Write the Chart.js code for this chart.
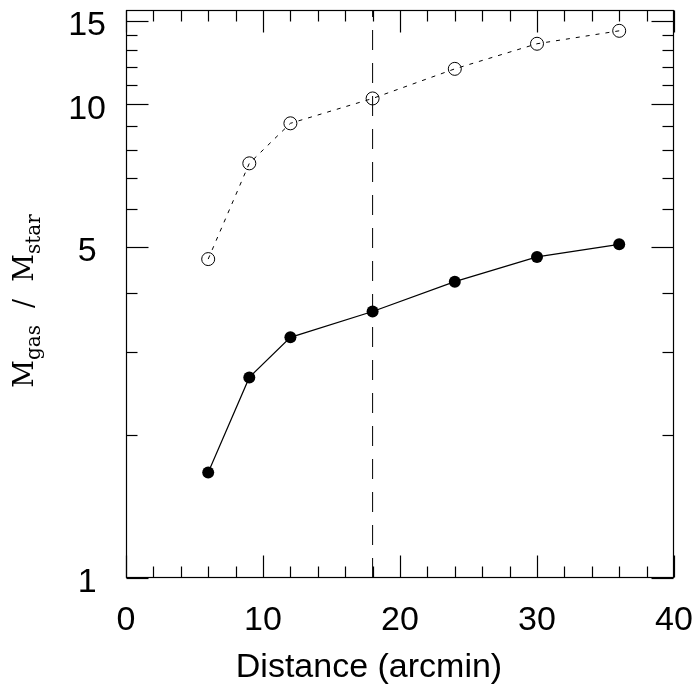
<!DOCTYPE html>
<html><head><meta charset="utf-8">
<script src="https://cdn.jsdelivr.net/npm/chart.js@4/dist/chart.umd.min.js"></script>
<style>html,body{margin:0;padding:0;background:#fff;}canvas{display:block;}</style>
</head><body>
<canvas id="c" width="698" height="698"></canvas>
<script>
// ---- data ----
const distance = [6, 9, 12, 18, 24, 30, 36];
const ratioOpen = [4.71, 7.50, 9.11, 10.28, 11.87, 13.41, 14.28];
const ratioFilled = [1.67, 2.65, 3.22, 3.65, 4.22, 4.76, 5.06];
const refLineX = 18;
const xRange = [0, 40];
const yRange = [1, 15.8];
const xTickLabels = [0, 10, 20, 30, 40];
const xMinorTicks = [2, 4, 6, 8, 12, 14, 16, 18, 22, 24, 26, 28, 32, 34, 36, 38];
const yTickLabels = [1, 5, 10, 15];
const yMinorTicks = [2, 3, 4, 6, 7, 8, 9, 11, 12, 13, 14];
const xTitle = 'Distance (arcmin)';
const yTitleParts = [['M', false], ['gas', true], ['  /  ', false], ['M', false], ['star', true]];

const SANS = '"Liberation Sans", Arial, Helvetica, sans-serif';
const SERIF = '"DejaVu Serif", "Liberation Serif", serif';

const framePlugin = {
  id: 'frame',
  afterDraw(chart) {
    const {ctx, chartArea: a, scales: {x, y}} = chart;
    ctx.save();
    ctx.strokeStyle = '#000';
    ctx.lineWidth = 1.2;
    ctx.setLineDash([]);
    const L = a.left + 0.5, R = a.right - 0.5, T = a.top + 0.5, B = a.bottom - 0.5;
    ctx.strokeRect(L, T, R - L, B - T);
    const seg = (x1, y1, x2, y2) => { ctx.beginPath(); ctx.moveTo(x1, y1); ctx.lineTo(x2, y2); ctx.stroke(); };
    const major = 22, minor = 11;
    xTickLabels.forEach(v => { const p = Math.round(x.getPixelForValue(v)) + 0.5; seg(p, B, p, B - major); seg(p, T, p, T + major); });
    xMinorTicks.forEach(v => { const p = Math.round(x.getPixelForValue(v)) + 0.5; seg(p, B, p, B - minor); seg(p, T, p, T + minor); });
    yTickLabels.forEach(v => { const p = Math.round(y.getPixelForValue(v)) + 0.5; seg(L, p, L + major, p); seg(R, p, R - major, p); });
    yMinorTicks.forEach(v => { const p = Math.round(y.getPixelForValue(v)) + 0.5; seg(L, p, L + minor, p); seg(R, p, R - minor, p); });

    // x axis title
    ctx.fillStyle = '#000';
    ctx.font = '34px ' + SANS;
    ctx.textAlign = 'center';
    ctx.textBaseline = 'middle';
    ctx.fillText(xTitle, 369, 668);

    // y axis title with subscripts, rotated
    const big = 27, small = 20;
    let total = 0;
    const widths = yTitleParts.map(([t, sub]) => { ctx.font = (sub ? small : big) + 'px ' + SERIF; const w = ctx.measureText(t).width; total += w; return w; });
    ctx.translate(33, 301);
    ctx.rotate(-Math.PI / 2);
    ctx.textAlign = 'left';
    ctx.textBaseline = 'alphabetic';
    let cx = -total / 2;
    yTitleParts.forEach(([t, sub], i) => {
      ctx.font = (sub ? small : big) + 'px ' + SERIF;
      ctx.fillText(t, cx, sub ? 7 : 0);
      cx += widths[i];
    });
    ctx.restore();
  }
};

new Chart(document.getElementById('c'), {
  type: 'scatter',
  data: {
    datasets: [
      {
        label: 'ref',
        data: [{x: refLineX, y: yRange[0]}, {x: refLineX, y: yRange[1]}],
        showLine: true, borderColor: '#000', borderWidth: 1, borderDash: [20, 13],
        pointRadius: 0
      },
      {
        label: 'open',
        data: distance.map((d, i) => ({x: d, y: ratioOpen[i]})),
        showLine: true, borderColor: '#000', borderWidth: 1, borderDash: [4, 6],
        pointRadius: 6.5, pointBorderWidth: 1, pointBorderColor: '#000', pointBackgroundColor: 'rgba(0,0,0,0)'
      },
      {
        label: 'filled',
        data: distance.map((d, i) => ({x: d, y: ratioFilled[i]})),
        showLine: true, borderColor: '#000', borderWidth: 1.2,
        pointRadius: 6, pointBorderWidth: 0, pointBackgroundColor: '#000'
      }
    ]
  },
  options: {
    responsive: false,
    animation: false,
    devicePixelRatio: 1,
    layout: {padding: {left: 0, right: 24, top: 10, bottom: 0}},
    plugins: {legend: {display: false}, tooltip: {enabled: false}},
    scales: {
      x: {
        type: 'linear', min: xRange[0], max: xRange[1],
        grid: {display: false, drawTicks: false},
        border: {display: false},
        afterBuildTicks: s => { s.ticks = xTickLabels.map(v => ({value: v})); },
        ticks: {color: '#000', font: {family: SANS, size: 34}, padding: 22, maxRotation: 0, autoSkip: false,
                callback: v => String(v)},
        afterFit: s => { s.height = 120; s.paddingLeft = 0; s.paddingRight = 0; }
      },
      y: {
        type: 'logarithmic', min: yRange[0], max: yRange[1],
        grid: {display: false, drawTicks: false},
        border: {display: false},
        afterBuildTicks: s => { s.ticks = yTickLabels.map(v => ({value: v})); },
        ticks: {color: '#000', font: {family: SANS, size: 34}, padding: 20, crossAlign: 'center', labelOffset: 5,
                autoSkip: false, callback: v => String(v)},
        afterFit: s => { s.width = 126; s.paddingTop = 0; s.paddingBottom = 0; }
      }
    }
  },
  plugins: [framePlugin]
});
</script>
</body></html>
